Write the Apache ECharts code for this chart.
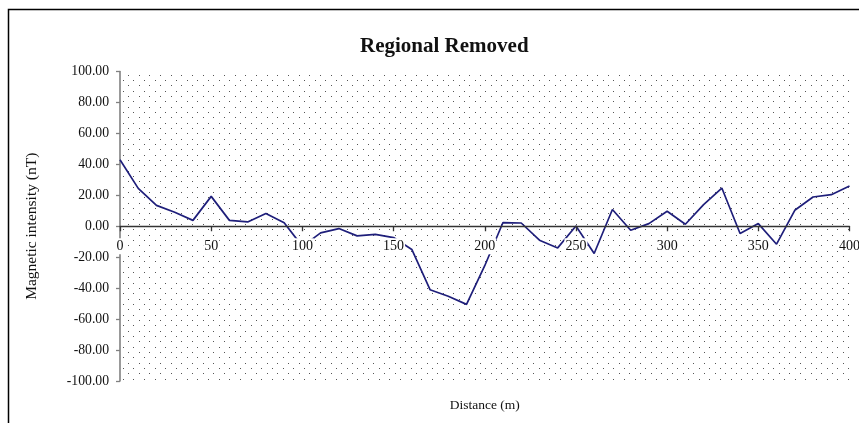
<!DOCTYPE html>
<html>
<head>
<meta charset="utf-8">
<script src="https://cdn.jsdelivr.net/npm/echarts@6/dist/echarts.min.js"></script>
<style>
  html, body { margin: 0; padding: 0; background: #fff; }
  #chart { width: 859px; height: 423px; }
</style>
</head>
<body>
<div id="chart"></div>
<script>
// Survey stations along the profile (m)
const distance = [0, 10, 20, 30, 40, 50, 60, 70, 80, 90,
  100, 110, 120, 130, 140, 150, 160, 170, 180, 190,
  200, 210, 220, 230, 240, 250, 260, 270, 280, 290,
  300, 310, 320, 330, 340, 350, 360, 370, 380, 390, 400];

// Residual magnetic intensity after removing the regional trend (nT)
const residual = [43, 24.5, 13.5, 9, 3.8, 19.3, 3.8, 2.8, 8.2, 2.2,
  -13, -4.3, -1.5, -6.2, -5.2, -7.3, -15, -41, -45.2, -50.5,
  -25.5, 2.4, 2.1, -9, -14, 0.2, -17.6, 10.8, -2.6, 1.7,
  9.7, 1.3, 14, 24.7, -4.7, 1.7, -11.6, 10.3, 18.9, 20.4, 26];

const titleText = 'Regional Removed';
const xName = 'Distance (m)';
const yName = 'Magnetic intensity (nT)';

const serif = '"Liberation Serif", "Times New Roman", serif';

const W = 859, H = 423;
const gridBox = { left: 120, right: 9.5, top: 71.5, bottom: 42 };
// y range is symmetric about zero, so the zero line sits at mid-height of the plot
const plotHeight = H - gridBox.top - gridBox.bottom;

// Dotted fill for the plot area
function dotPattern() {
  const c = document.createElement('canvas');
  c.width = 32; c.height = 32;
  const g = c.getContext('2d');
  g.fillStyle = '#555';
  const step = 32 / 3;
  for (let i = 0; i < 3; i++) {
    for (let j = 0; j < 3; j++) {
      g.fillRect(Math.round(i * step), Math.round(j * step), 1, 1);
      g.fillRect(Math.round(i * step + step / 2), Math.round(j * step + step / 2), 1, 1);
    }
  }
  return { image: c, repeat: 'repeat' };
}

const chart = echarts.init(document.getElementById('chart'), null, { renderer: 'canvas' });

chart.setOption({
  animation: false,
  backgroundColor: '#fff',
  graphic: [{
    type: 'rect',
    shape: { x: 8.5, y: 9.5, width: 900, height: 500 },
    style: { fill: 'none', stroke: '#000', lineWidth: 1.5 },
    silent: true,
    z: -1
  }],
  title: {
    text: titleText,
    left: 355,
    top: 31,
    textStyle: { fontFamily: serif, fontWeight: 'bold', fontSize: 21, color: '#111' }
  },
  grid: {
    left: gridBox.left, right: gridBox.right, top: gridBox.top, bottom: gridBox.bottom,
    outerBoundsMode: 'none',
    containLabel: false,
    show: true,
    borderWidth: 0,
    backgroundColor: dotPattern()
  },
  xAxis: {
    type: 'value',
    min: 0, max: 400, interval: 50,
    z: 5,
    offset: -plotHeight / 2,
    name: xName,
    nameLocation: 'middle',
    nameGap: 172,
    nameTextStyle: { fontFamily: serif, fontSize: 13.5, color: '#111' },
    axisLine: { onZero: false, lineStyle: { color: '#333', width: 1.3 } },
    axisTick: { show: true, length: 5, lineStyle: { color: '#333', width: 1.3 } },
    splitLine: { show: false },
    axisLabel: {
      fontFamily: serif, fontSize: 14, color: '#111',
      margin: 12,
      backgroundColor: '#fff',
      padding: [1, 1]
    }
  },
  yAxis: {
    type: 'value',
    min: -100, max: 100, interval: 20,
    name: yName,
    nameLocation: 'middle',
    nameGap: 80,
    nameTextStyle: { fontFamily: serif, fontSize: 15.5, color: '#111' },
    axisLine: { show: true, lineStyle: { color: '#808080', width: 1.6 } },
    axisTick: { show: true, length: 4, lineStyle: { color: '#808080', width: 1.3 } },
    splitLine: { show: false },
    axisLabel: {
      fontFamily: serif, fontSize: 13.7, color: '#111',
      margin: 11,
      formatter: v => v.toFixed(2)
    }
  },
  series: [{
    type: 'line',
    data: distance.map((d, i) => [d, residual[i]]),
    showSymbol: false,
    symbol: 'none',
    lineStyle: { color: '#1e1e7a', width: 1.7 },
    z: 2
  }]
});
</script>
</body>
</html>
